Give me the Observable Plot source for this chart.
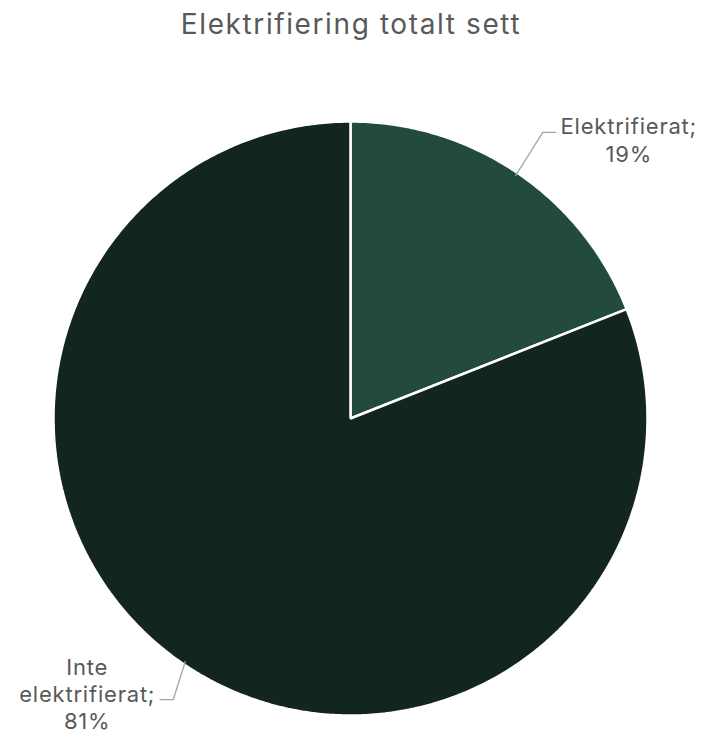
<!DOCTYPE html>
<html>
<head>
<meta charset="utf-8">
<script src="https://cdn.jsdelivr.net/npm/d3@7"></script>
<script src="https://cdn.jsdelivr.net/npm/@observablehq/plot@0.6"></script>
<style>
  html, body { margin: 0; padding: 0; background: #fff; }
  #chart svg { display: block; font-variant-ligatures: none; }
  .lbl text { letter-spacing: 0.8px; }
  .ttl text { letter-spacing: 1.6px; }
</style>
</head>
<body>
<div id="chart"></div>
<script>
const title = "Elektrifiering totalt sett";
const categories = ["Elektrifierat", "Inte elektrifierat"];
const labelTexts = ["Elektrifierat;\n19%", "Inte\nelektrifierat;\n81%"];
const values = [19, 81];
const colors = ["#234b3b", "#12261e"];

const W = 707, H = 738;
const cx = 350, cy = 418, R = 297;
// leader-line elbow offsets (pixels) from the slice edge, per label
const elbowOffsets = [[27, -43], [-12, 38]];
const tailLen = 13;

const arcs = d3.pie().sort(null).value(d => d)(values);

// polygon points for each slice (center + arc)
const slicePts = [];
arcs.forEach((a, i) => {
  slicePts.push({cat: categories[i], x: 0, y: 0});
  const n = Math.max(2, Math.ceil((a.endAngle - a.startAngle) / 0.01));
  for (let k = 0; k <= n; k++) {
    const t = a.startAngle + (a.endAngle - a.startAngle) * k / n;
    slicePts.push({cat: categories[i], x: Math.sin(t), y: Math.cos(t)});
  }
});

// leader lines
const leaderPts = [];
const labels = [];
arcs.forEach((a, i) => {
  const m = (a.startAngle + a.endAngle) / 2;
  const dir = Math.sin(m) >= 0 ? 1 : -1;
  const r0 = 0.99;
  const sx = r0 * Math.sin(m), sy = r0 * Math.cos(m);
  const ex = sx + elbowOffsets[i][0] / R, ey = sy - elbowOffsets[i][1] / R;
  leaderPts.push({cat: categories[i], x: sx, y: sy});
  leaderPts.push({cat: categories[i], x: ex, y: ey});
  const hx = ex + dir * tailLen / R;
  leaderPts.push({cat: categories[i], x: hx, y: ey});
  labels.push({cat: categories[i], text: labelTexts[i], x: hx, y: ey, dir});
});

const chart = Plot.plot({
  width: W,
  height: H,
  margin: 0,
  style: {fontFamily: "Inter, 'Open Sans', sans-serif", background: "#fff"},
  x: {type: "linear", domain: [-1, 1], range: [cx - R, cx + R], axis: null},
  y: {type: "linear", domain: [-1, 1], range: [cy + R, cy - R], axis: null},
  color: {domain: categories, range: colors},
  marks: [
    Plot.line(slicePts, {x: "x", y: "y", z: "cat", fill: "cat", stroke: "white", strokeWidth: 2.5, curve: "linear-closed", strokeLinejoin: "miter"}),
    Plot.line(leaderPts, {x: "x", y: "y", z: "cat", stroke: "#a6a6a6", strokeWidth: 1.3}),
    Plot.text(labels.filter(d => d.dir > 0), {x: "x", y: "y", text: "text", dx: 73, dy: 7, textAnchor: "middle", lineAnchor: "middle", lineHeight: 1.23, fontSize: 22, fill: "#595959", className: "lbl"}),
    Plot.text(labels.filter(d => d.dir < 0), {x: "x", y: "y", text: "text", dx: -73, dy: -6, textAnchor: "middle", lineAnchor: "middle", lineHeight: 1.23, fontSize: 22, fill: "#595959", className: "lbl"}),
    Plot.text([title], {frameAnchor: "top", text: d => d, dy: 33, dx: -3, lineAnchor: "bottom", fontSize: 28, fill: "#595959", className: "ttl"})
  ]
});
document.getElementById("chart").appendChild(chart);
</script>
</body>
</html>
